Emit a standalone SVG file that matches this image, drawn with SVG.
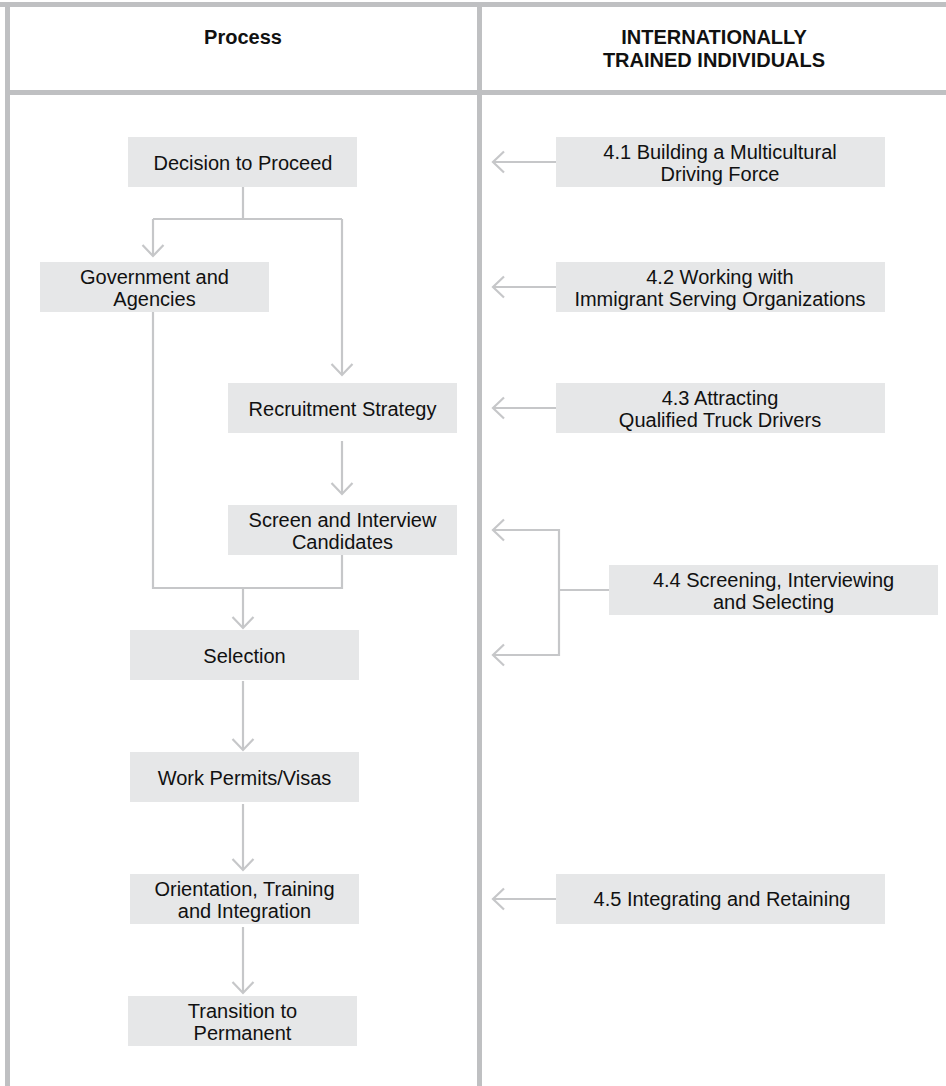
<svg xmlns="http://www.w3.org/2000/svg" width="946" height="1086" viewBox="0 0 946 1086">
<style>
.frame{fill:#bfc0c2}
.box{fill:#e6e7e8}
.t{font-family:"Liberation Sans",Arial,sans-serif;font-size:20px;fill:#111;text-anchor:middle}
.h{font-family:"Liberation Sans",Arial,sans-serif;font-size:20px;font-weight:bold;fill:#111;text-anchor:middle}
.c{fill:none;stroke:#c6c7c9;stroke-width:2.2}
</style>
<defs>
<marker id="ah" markerUnits="userSpaceOnUse" viewBox="-14 -13 16 26" refX="0" refY="0" markerWidth="16" markerHeight="26" orient="auto">
<path d="M-11,-10.5 L0,0 L-11,10.5" fill="none" stroke="#c6c7c9" stroke-width="2.2"/>
</marker>
</defs>
<rect width="946" height="1086" fill="#fff"/>
<g id="frame">
<rect class="frame" x="0" y="2" width="946" height="5"/>
<rect class="frame" x="5" y="2" width="5" height="1084"/>
<rect class="frame" x="477" y="2" width="5" height="1084"/>
<rect class="frame" x="5" y="90" width="941" height="5"/>
</g>
<g id="header">
<text class="h" x="243" y="44">Process</text>
<text class="h" x="714" y="44"><tspan x="714">INTERNATIONALLY</tspan><tspan x="714" dy="23">TRAINED INDIVIDUALS</tspan></text>
</g>
<g id="connectors">
<path class="c" d="M243,187 V219 M153,219 H342"/>
<path class="c" d="M153,219 V256" marker-end="url(#ah)"/>
<path class="c" d="M342,219 V375" marker-end="url(#ah)"/>
<path class="c" d="M342,441 V494" marker-end="url(#ah)"/>
<path class="c" d="M153,312 V588 H342 V555"/>
<path class="c" d="M243,588 V628" marker-end="url(#ah)"/>
<path class="c" d="M243,681 V750" marker-end="url(#ah)"/>
<path class="c" d="M243,804 V870" marker-end="url(#ah)"/>
<path class="c" d="M243,927 V993" marker-end="url(#ah)"/>
<path class="c" d="M556,162 H493" marker-end="url(#ah)"/>
<path class="c" d="M556,287 H493" marker-end="url(#ah)"/>
<path class="c" d="M556,408 H493" marker-end="url(#ah)"/>
<path class="c" d="M609,590 H559"/>
<path class="c" d="M559,530 H493" marker-end="url(#ah)"/>
<path class="c" d="M559,655 H493" marker-end="url(#ah)"/>
<path class="c" d="M559,529 V656"/>
<path class="c" d="M556,899 H493" marker-end="url(#ah)"/>
</g>
<g id="decision">
<rect class="box" x="128" y="137" width="229" height="50"/>
<text class="t" x="243" y="170">Decision to Proceed</text>
</g>
<g id="government">
<rect class="box" x="40" y="262" width="229" height="50"/>
<text class="t" x="154.5" y="283.5"><tspan x="154.5">Government and</tspan><tspan x="154.5" dy="22.5">Agencies</tspan></text>
</g>
<g id="recruitment">
<rect class="box" x="228" y="383" width="229" height="50"/>
<text class="t" x="342.5" y="416">Recruitment Strategy</text>
</g>
<g id="screen">
<rect class="box" x="228" y="505" width="229" height="50"/>
<text class="t" x="342.5" y="526.5"><tspan x="342.5">Screen and Interview</tspan><tspan x="342.5" dy="22.5">Candidates</tspan></text>
</g>
<g id="selection">
<rect class="box" x="130" y="630" width="229" height="50"/>
<text class="t" x="244.5" y="663">Selection</text>
</g>
<g id="permits">
<rect class="box" x="130" y="752" width="229" height="50"/>
<text class="t" x="244.5" y="785">Work Permits/Visas</text>
</g>
<g id="orientation">
<rect class="box" x="130" y="874" width="229" height="50"/>
<text class="t" x="244.5" y="895.5"><tspan x="244.5">Orientation, Training</tspan><tspan x="244.5" dy="22.5">and Integration</tspan></text>
</g>
<g id="transition">
<rect class="box" x="128" y="996" width="229" height="50"/>
<text class="t" x="242.5" y="1017.5"><tspan x="242.5">Transition to</tspan><tspan x="242.5" dy="22.5">Permanent</tspan></text>
</g>
<g id="n41">
<rect class="box" x="556" y="137" width="329" height="50"/>
<text class="t" x="720" y="158.5"><tspan x="720">4.1 Building a Multicultural</tspan><tspan x="720" dy="22.5">Driving Force</tspan></text>
</g>
<g id="n42">
<rect class="box" x="556" y="262" width="329" height="50"/>
<text class="t" x="720" y="283.5"><tspan x="720">4.2 Working with</tspan><tspan x="720" dy="22.5">Immigrant Serving Organizations</tspan></text>
</g>
<g id="n43">
<rect class="box" x="556" y="383" width="329" height="50"/>
<text class="t" x="720" y="404.5"><tspan x="720">4.3 Attracting</tspan><tspan x="720" dy="22.5">Qualified Truck Drivers</tspan></text>
</g>
<g id="n44">
<rect class="box" x="609" y="565" width="329" height="50"/>
<text class="t" x="773.5" y="586.5"><tspan x="773.5">4.4 Screening, Interviewing</tspan><tspan x="773.5" dy="22.5">and Selecting</tspan></text>
</g>
<g id="n45">
<rect class="box" x="556" y="874" width="329" height="50"/>
<text class="t" x="722" y="906">4.5 Integrating and Retaining</text>
</g>
</svg>
